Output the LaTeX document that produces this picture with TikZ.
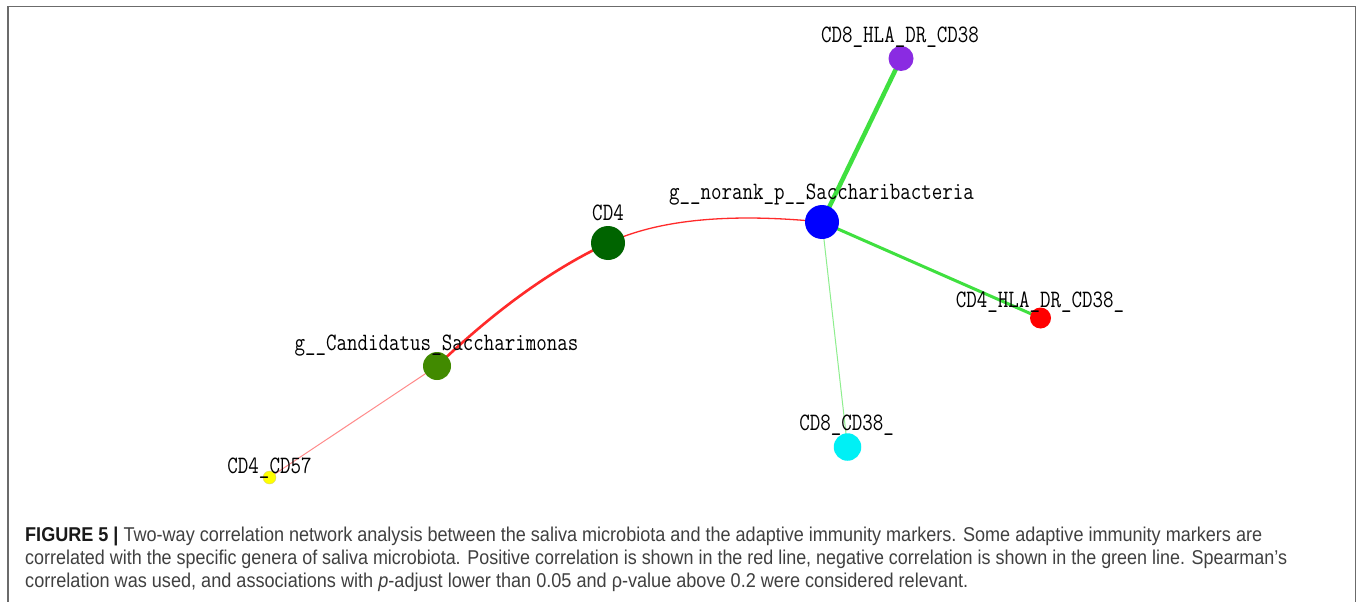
\documentclass[tikz,border=0pt]{standalone}
\usepackage{fontspec}
\usepackage{graphicx}
\usetikzlibrary{backgrounds}
\newfontfamily\capfont{Liberation Sans}
\definecolor{framegray}{HTML}{6B6B6B}
\definecolor{nviolet}{HTML}{8A2BE2}
\definecolor{nblue}{HTML}{0000FF}
\definecolor{ndkgreen}{HTML}{006400}
\definecolor{nolive}{HTML}{418A00}
\definecolor{nyellow}{HTML}{FFFF00}
\definecolor{nred}{HTML}{FF0000}
\definecolor{ncyan}{HTML}{00F0F5}
\definecolor{egreen}{HTML}{3FE03F}
\definecolor{elgreen}{HTML}{8EEE8E}
\definecolor{ered}{HTML}{FF2A2A}
\definecolor{elred}{HTML}{FF8A8A}
\definecolor{captext}{HTML}{404040}
\newcommand\labtxt[1]{{\fontsize{25}{25}\selectfont\ttfamily\scalebox{0.816}[1]{#1}}}
\tikzset{
  dot/.style={circle, draw=none, inner sep=0pt},
  lab/.style={anchor=base, inner sep=0pt, text=black},
  frameline/.style={draw=framegray, line width=1.6pt},
  capline/.style={anchor=base west, inner sep=0pt, text=captext, font=\capfont\fontsize{20}{20}\selectfont}
}
\begin{document}
\begin{tikzpicture}[x=1pt,y=-1pt]
\useasboundingbox (0,0) rectangle (1357,602);
\draw[frameline] (8,602) -- (8,6.5) -- (1355.5,6.5) -- (1355.5,602);

% nodes
\node[dot, fill=nviolet, minimum size=25pt] (hladr8) at (901,58.5) {};
\node[dot, fill=nblue, minimum size=34pt] (sacch) at (822,222) {};
\node[dot, fill=ndkgreen, minimum size=34pt] (cd4) at (608,243) {};
\node[dot, fill=nolive, minimum size=28pt] (cand) at (437,366) {};
\node[dot, fill=nyellow, draw=yellow!70!black!60, line width=0.4pt, minimum size=13pt] (cd57) at (269.5,477.5) {};
\node[dot, fill=nred, minimum size=21pt] (hladr4) at (1040.5,318) {};
\node[dot, fill=ncyan, minimum size=27.5pt] (cd838) at (847.5,447) {};

% edges
\begin{scope}[on background layer]
\fill[white] (0,0) rectangle (1357,602);
\draw[egreen, line width=4.5pt] (sacch.center) -- (hladr8.center);
\draw[egreen, line width=3pt] (sacch.center) -- (hladr4.center);
\draw[elgreen, line width=1pt] (sacch.center) -- (cd838.center);
\draw[ered, line width=1.3pt] (cd4.center) .. controls +(49.8,-23.3) and +(-92.9,-9.3) .. (sacch.center);
\draw[ered, line width=2.6pt] (cand.center) .. controls +(58.5,-56.1) and +(-55.5,25.9) .. (cd4.center);
\draw[elred, line width=1pt] (cand.center) -- (cd57.center);
\end{scope}

% labels
\node[lab] (l1) at (900,43) {\labtxt{CD8\_HLA\_DR\_CD38}};
\node[lab] (l2) at (821.5,199) {\labtxt{g\_\_norank\_p\_\_Saccharibacteria}};
\node[lab] (l3) at (608,220) {\labtxt{CD4}};
\node[lab] (l4) at (436.5,350) {\labtxt{g\_\_Candidatus\_Saccharimonas}};
\node[lab] (l5) at (269.5,473) {\labtxt{CD4\_CD57}};
\node[lab] (l6) at (1040,307) {\labtxt{CD4\_HLA\_DR\_CD38\_}};
\node[lab] (l7) at (846.6,430) {\labtxt{CD8\_CD38\_}};

% caption
\node[capline] (c1) at (25,541) {\resizebox{1237pt}{\height}{\textcolor{black!90}{\textbf{FIGURE 5 |}} Two-way correlation network analysis between the saliva microbiota and the adaptive immunity markers. Some adaptive immunity markers are}};
\node[capline] (c2) at (25,564) {\resizebox{1262pt}{\height}{correlated with the specific genera of saliva microbiota. Positive correlation is shown in the red line, negative correlation is shown in the green line. Spearman’s}};
\node[capline] (c3) at (25,587) {\resizebox{943pt}{\height}{correlation was used, and associations with \textit{p}-adjust lower than 0.05 and ρ-value above 0.2 were considered relevant.}};
\end{tikzpicture}
\end{document}
